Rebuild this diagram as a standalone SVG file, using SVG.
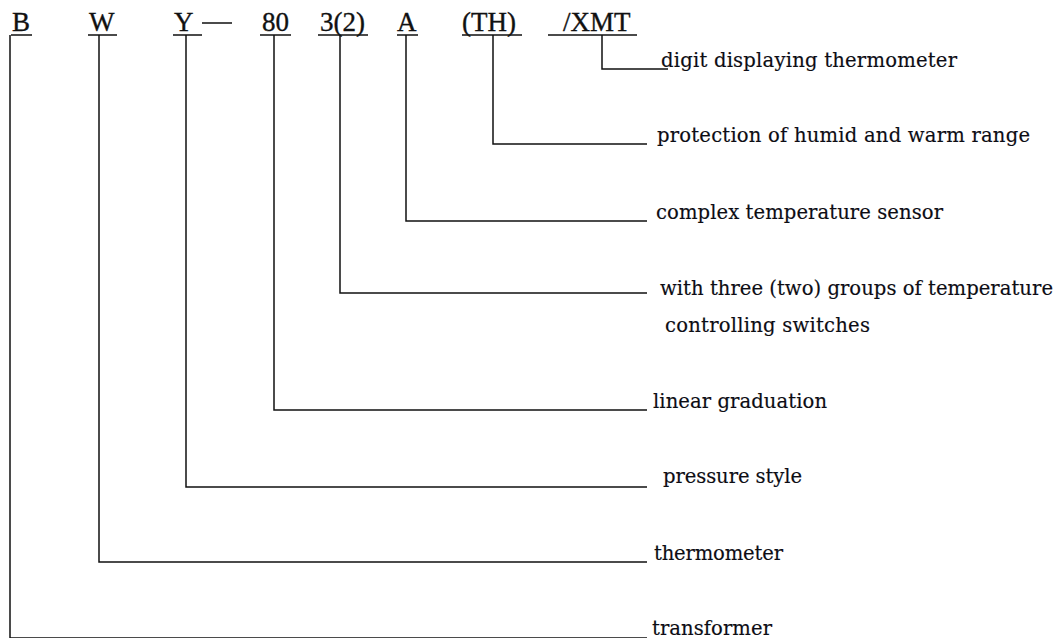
<svg xmlns="http://www.w3.org/2000/svg" width="1063" height="638" viewBox="0 0 1063 638">
  <style>
    .code { font-family: "Liberation Serif", "Times New Roman", serif; font-size: 27px; fill: #111; stroke: #111; stroke-width: 0.35; }
    .lbl { font-family: "DejaVu Serif", "Liberation Serif", serif; font-size: 19.6px; fill: #0d0d14; stroke: #0d0d14; stroke-width: 0.15; }
    .ln { stroke: #111; stroke-width: 1.5; fill: none; }
  </style>
  <rect width="1063" height="638" fill="#fff"/>

  <!-- model code with underlined segments -->
  <g id="code">
    <text class="code" x="12" y="31">B</text>
    <text class="code" x="89" y="31">W</text>
    <text class="code" x="174" y="31">Y</text>
    <text class="code" x="262" y="31">80</text>
    <text class="code" x="320" y="31">3(2)</text>
    <text class="code" x="397" y="31">A</text>
    <text class="code" x="462" y="31">(TH)</text>
    <text class="code" x="563" y="31">/XMT</text>
    <path class="ln" d="M11 35H32 M88 35H117 M173 35H202 M202 23H232 M260 35H291 M318 35H368 M397 35H418 M462 35H522 M548 35H637"/>
  </g>

  <!-- leader lines from each segment to its description -->
  <g id="connectors">
    <path class="ln" d="M602 35V69H668"/>
    <path class="ln" d="M493 35V144H647"/>
    <path class="ln" d="M406 35V221H647"/>
    <path class="ln" d="M340 35V293H647"/>
    <path class="ln" d="M274 35V410H647"/>
    <path class="ln" d="M186 35V487H647"/>
    <path class="ln" d="M99 35V562H647"/>
    <path class="ln" d="M10 35V638H647"/>
  </g>

  <!-- descriptions -->
  <g id="label-xmt"><text class="lbl" x="661" y="67" textLength="296">digit displaying thermometer</text></g>
  <g id="label-th"><text class="lbl" x="657" y="142" textLength="373">protection of humid and warm range</text></g>
  <g id="label-a"><text class="lbl" x="656" y="219" textLength="287">complex temperature sensor</text></g>
  <g id="label-3"><text class="lbl" x="660" y="295" textLength="393">with three (two) groups of temperature</text>
    <text class="lbl" x="665" y="332" textLength="205">controlling switches</text></g>
  <g id="label-80"><text class="lbl" x="653" y="408" textLength="174">linear graduation</text></g>
  <g id="label-y"><text class="lbl" x="663" y="483" textLength="139">pressure style</text></g>
  <g id="label-w"><text class="lbl" x="654" y="560" textLength="129">thermometer</text></g>
  <g id="label-b"><text class="lbl" x="652" y="635" textLength="120">transformer</text></g>
</svg>
